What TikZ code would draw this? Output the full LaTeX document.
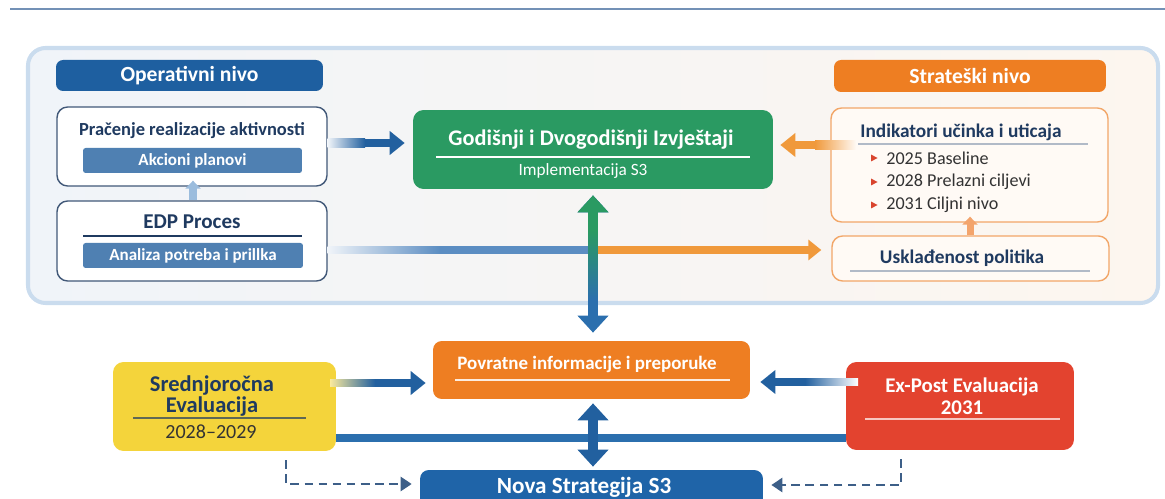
\documentclass[tikz,border=0pt]{standalone}
\usepackage{fontspec}
\setmainfont{Carlito}
\usetikzlibrary{arrows.meta,calc}

\definecolor{topline}{HTML}{7391B6}
\definecolor{panelline}{HTML}{CADCEE}
\definecolor{panelleft}{HTML}{F0F4F9}
\definecolor{panelright}{HTML}{FDF6EF}
\definecolor{opblue}{HTML}{1E5FA0}
\definecolor{barblue}{HTML}{4F80B2}
\definecolor{navy}{HTML}{1F3A60}
\definecolor{arrowblue}{HTML}{22609F}
\definecolor{steelblue}{HTML}{5B8DC2}
\definecolor{lightblue}{HTML}{9BBCDD}
\definecolor{godgreen}{HTML}{2A9A62}
\definecolor{strorange}{HTML}{EE7E22}
\definecolor{lineorange}{HTML}{F0993B}
\definecolor{lightorange}{HTML}{F3A46C}
\definecolor{boxorange}{HTML}{F2A668}
\definecolor{peach}{HTML}{FFFAF5}
\definecolor{sredyellow}{HTML}{F4D43B}
\definecolor{expred}{HTML}{E3432F}
\definecolor{novablue}{HTML}{1F64A8}
\definecolor{linkblue}{HTML}{2B6FAE}
\definecolor{dashblue}{HTML}{3D5F88}
\definecolor{bulred}{HTML}{D9452E}
\definecolor{itemgray}{HTML}{333333}

\tikzset{
  hdr/.style={rounded corners=4pt, inner sep=0pt, text=white, font=\bfseries\fontsize{12.3}{14}\selectfont},
  wbox/.style={draw=navy!85, line width=0.8pt, fill=white, rounded corners=6pt, inner sep=0pt},
  obox/.style={draw=boxorange, line width=0.8pt, fill=peach, rounded corners=6pt, inner sep=0pt},
  bar/.style={fill=barblue, text=white, rounded corners=1.5pt, minimum width=4.38cm, minimum height=0.5cm, inner sep=0pt, font=\bfseries\fontsize{9.7}{11}\selectfont},
  ttl/.style={text=navy, inner sep=0pt, font=\bfseries\fontsize{11}{13}\selectfont},
  wtxt/.style={text=white, inner sep=0pt, font=\bfseries\fontsize{10.8}{12}\selectfont},
  item/.style={text=itemgray, inner sep=0pt, anchor=west, font=\fontsize{10.3}{12}\selectfont},
  fatarrow/.style={line width=5pt, -{Triangle[length=0.3cm,width=0.46cm]}},
  dblarrow/.style={line width=5.5pt, {Triangle[length=0.34cm,width=0.6cm]}-{Triangle[length=0.34cm,width=0.6cm]}},
  uparrow/.style={line width=4pt, -{Triangle[length=0.16cm,width=0.3cm]}},
  dasharrow/.style={dashblue, line width=1.3pt, dash pattern=on 5pt off 3pt, -{Triangle[length=0.22cm,width=0.28cm]}},
}

\begin{document}
\begin{tikzpicture}[x=0.02cm,y=-0.02cm]
\useasboundingbox (0,0) rectangle (1165,499);
\draw[topline, line width=0.9pt] (10,9) -- (1165,9);
\draw[panelline, line width=2.3pt, rounded corners=10pt, left color=panelleft, middle color=panelleft!60!panelright, right color=panelright] (28,48) rectangle (1158,303);

\node[hdr, fill=opblue, minimum width=5.34cm, minimum height=0.62cm] (opHead) at (189.5,75.5) {Operativni nivo};
\node[hdr, fill=strorange, minimum width=5.44cm, minimum height=0.64cm] (strHead) at (970,76) {Strateški nivo};

\node[wbox, minimum width=5.4cm, minimum height=1.58cm] (pracBox) at (192,146.5) {};
\node[ttl, font=\bfseries\fontsize{10.5}{12}\selectfont] (pracTtl) at (192,131) {Pračenje realizacije aktivnosti};
\node[bar] (akcBar) at (192.5,160.5) {Akcioni planovi};

\node[wbox, minimum width=5.4cm, minimum height=1.6cm] (edpBox) at (192,241) {};
\node[ttl, font=\bfseries\fontsize{12}{14}\selectfont] (edpTtl) at (192,222) {EDP Proces};
\draw[navy, line width=0.6pt] (83,236) -- (302,236);
\node[bar, minimum width=4.4cm] (anaBar) at (193,255.5) {Analiza potreba i prillka};

\node[fill=godgreen, rounded corners=6pt, minimum width=7.2cm, minimum height=1.58cm, inner sep=0pt] (godBox) at (593,149.5) {};
\node[wtxt, font=\bfseries\fontsize{12.7}{14}\selectfont] (godTtl) at (591,140) {Godišnji i Dvogodišnji Izvještaji};
\draw[white, line width=0.9pt] (436,157) -- (750,157);
\node[text=white, inner sep=0pt, font=\fontsize{9.8}{11}\selectfont] (godSub) at (583,171) {Implementacija S3};

\node[obox, minimum width=5.54cm, minimum height=2.28cm] (indBox) at (969.5,165) {};
\node[ttl, anchor=west] (indTtl) at (860,132) {Indikatori učinka i uticaja};
\draw[navy!35, line width=0.6pt] (858,144) -- (1088,144);
\foreach \yy/\txt [count=\i] in {158/2025 Baseline,182/2028 Prelazni ciljevi,205/2031 Ciljni nivo}{
  \fill[bulred] (871,\yy-3.5) -- (877.5,\yy) -- (871,\yy+3.5) -- cycle;
  \node[item] (indItem\i) at (886,\yy) {\txt};
}

\node[obox, minimum width=5.54cm, minimum height=0.9cm] (uskBox) at (970.5,258.5) {};
\node[ttl] (uskTtl) at (962,258) {Usklađenost politika};
\draw[navy!35, line width=0.6pt] (850,271) -- (1090,271);

\node[fill=strorange, rounded corners=5pt, minimum width=6.34cm, minimum height=1.16cm, inner sep=0pt] (povBox) at (591.5,370) {};
\node[wtxt] (povTtl) at (587,364) {Povratne informacije i preporuke};
\draw[white!85!strorange, line width=0.8pt] (455,380) -- (730,380);

\node[fill=novablue, rounded corners=5pt, minimum width=6.86cm, minimum height=0.8cm, inner sep=0pt] (novaBox) at (591.5,490) {};
\node[wtxt, font=\bfseries\fontsize{13.2}{15}\selectfont] (novaTtl) at (584,487) {Nova Strategija S3};

\node[fill=sredyellow, rounded corners=6pt, minimum width=4.46cm, minimum height=1.78cm, inner sep=0pt] (sredBox) at (224.5,406.5) {};
\node[ttl, align=center, font=\bfseries\fontsize{12.8}{12.5}\selectfont] (sredTtl) at (212,396) {Srednjoročna\\Evaluacija};
\draw[navy!70!sredyellow, line width=0.6pt] (133,418) -- (306,418);
\node[text=itemgray, inner sep=0pt, font=\fontsize{11.4}{13}\selectfont] (sredYrs) at (211,432) {2028--2029};

\node[fill=expred, rounded corners=6pt, minimum width=4.56cm, minimum height=1.76cm, inner sep=0pt] (expBox) at (960,406) {};
\node[wtxt, align=center, font=\bfseries\fontsize{11.9}{12.5}\selectfont] (expTtl) at (962,396) {Ex-Post Evaluacija\\2031};
\draw[white!70!expred, line width=0.8pt] (865,419) -- (1060,419);

\draw[fatarrow, arrowblue, shorten >=0.16cm] (pracBox.east |- 0,143) -- (godBox.west |- 0,143);
\shade[left color=panelleft, right color=arrowblue] (pracBox.east |- 0,138.6) rectangle (365,147.4);

\draw[fatarrow, lineorange, shorten >=0.14cm] ($(indBox.west |- 0,145)+(24,0)$) -- (godBox.east |- 0,145);
\shade[left color=lineorange, right color=peach] (815,140.6) rectangle (856,149.4);

\coordinate (split) at (593,250);
\draw[steelblue, line width=4.5pt] (edpBox.east |- split) -- ([xshift=-0.1cm]split);
\shade[left color=panelleft, right color=steelblue] (edpBox.east |- 0,246.05) rectangle (440,253.95);
\draw[lineorange, line width=4.5pt, -{Triangle[length=0.26cm,width=0.4cm]}, shorten >=0.2cm] ([xshift=0.1cm]split) -- (uskBox.west |- split);

\draw[uparrow, lightblue, shorten >=-0.12cm] (edpBox.north -| 193,0) -- (pracBox.south -| 193,0);
\draw[uparrow, lightorange, shorten >=-0.12cm] (uskBox.north -| 970,0) -- (indBox.south -| 970,0);

\draw[dblarrow, linkblue, shorten <=0.12cm, shorten >=0.16cm] (godBox.south) -- (godBox.south |- povBox.north);
\draw[godgreen, line width=5.5pt, -{Triangle[length=0.34cm,width=0.6cm]}, shorten >=0.12cm] (godBox.south |- 0,232) -- (godBox.south);
\shade[top color=godgreen, bottom color=linkblue] (588.15,231) rectangle (597.85,300);

\draw[linkblue, line width=4pt] (sredBox.east |- 0,438) -- (expBox.west |- 0,438);
\draw[dblarrow, arrowblue, shorten <=0.08cm, shorten >=0.06cm] (povBox.south -| 593,0) -- (novaBox.north -| 593,0);

\draw[fatarrow, arrowblue, line width=4.5pt, shorten >=0.14cm] (sredBox.east |- 0,383) -- (povBox.west |- 0,383);
\shade[left color=sredyellow!50!white, right color=arrowblue] (330,379.05) rectangle (375,386.95);

\draw[fatarrow, arrowblue, line width=4.5pt, shorten >=0.2cm] (expBox.west |- 0,382) -- (povBox.east |- 0,382);
\shade[left color=arrowblue, right color=white] (805,378.05) rectangle (858,385.95);

\draw[dasharrow, shorten <=0.18cm, shorten >=0.16cm] (sredBox.south -| 286,0) |- (novaBox.west |- 0,484);
\draw[dasharrow, shorten <=0.18cm, shorten >=0.16cm] (expBox.south -| 901,0) |- (novaBox.east |- 0,485);
\end{tikzpicture}
\end{document}
